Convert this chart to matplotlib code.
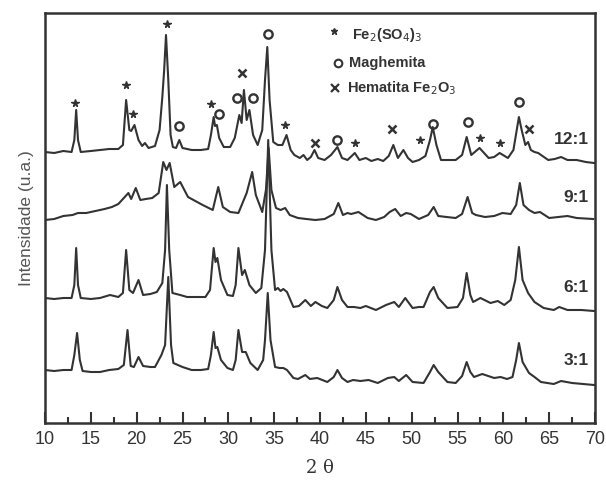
import numpy as np
import matplotlib
matplotlib.use('Agg')
import matplotlib.pyplot as plt

plt.rcParams['font.family'] = ['Liberation Sans', 'DejaVu Sans']

# 2theta / intensity (a.u.)
tt_12 = [10.0, 11.0, 12.0, 12.9, 13.2, 13.4, 13.6, 13.9, 15.0, 16.0, 17.0, 18.0, 18.5, 18.85, 19.2, 19.4,
         19.76, 20.2, 20.6, 20.9, 21.3, 22.0, 22.5, 22.8, 23.0, 23.2, 23.45, 23.7, 23.95, 24.3, 24.65, 25.0,
         26.0, 27.0, 27.8, 28.1, 28.4, 28.55, 28.75, 29.0, 29.5, 30.2, 30.7, 31.2, 31.45, 31.7, 32.0, 32.3,
         32.7, 33.2, 33.7, 34.0, 34.25, 34.5, 34.9, 35.4, 35.9, 36.35, 36.8, 37.2, 37.8, 38.2, 38.6, 39.0,
         39.4, 39.8, 40.5, 41.2, 41.9, 42.4, 43.0, 43.8, 44.3, 45.0, 45.6, 46.3, 46.9, 47.5, 48.0, 48.5,
         49.1, 49.6, 50.1, 50.8, 51.5, 52.0, 52.3, 52.7, 53.2, 54.0, 54.8, 55.5, 56.0, 56.5, 57.4, 58.4,
         59.0, 59.6, 60.5, 61.1, 61.5, 61.7, 62.0, 62.4, 62.7, 63.0, 63.4, 63.8, 64.9, 65.6, 66.3, 67.0,
         68.0, 69.0, 69.9]
int_12 = [271, 270, 272, 271, 283, 313, 283, 271, 272, 273, 274, 274, 278, 323, 293, 292,
          298, 283, 277, 280, 275, 277, 293, 326, 353, 388, 343, 288, 276, 275, 283, 275,
          273, 273, 274, 288, 306, 297, 298, 285, 276, 276, 285, 308, 300, 333, 303, 313,
          288, 278, 293, 343, 376, 323, 281, 278, 278, 288, 273, 268, 265, 268, 263, 266,
          273, 265, 263, 268, 276, 265, 263, 270, 263, 265, 262, 264, 262, 267, 278, 265,
          273, 265, 261, 263, 267, 283, 296, 278, 263, 263, 263, 268, 286, 268, 275, 265,
          266, 270, 265, 273, 295, 306, 293, 278, 281, 273, 271, 270, 263, 264, 266, 263,
          263, 261, 260]

tt_9 = [10.0, 11.0, 12.0, 13.0, 13.6, 14.5, 15.5, 16.5, 17.3, 18.0, 18.7, 19.1, 19.4, 19.9, 20.4, 21.0,
        21.7, 22.4, 22.9, 23.25, 23.6, 24.1, 24.75, 25.6, 26.4, 27.2, 28.3, 28.9, 29.4, 30.2, 31.1, 32.0,
        32.6, 33.0, 33.7, 34.1, 34.4, 34.7, 35.2, 35.7, 36.2, 36.7, 37.6, 38.5, 39.5, 40.5, 41.5, 42.0,
        42.5, 43.0, 43.4, 43.8, 44.2, 45.2, 46.1, 47.0, 47.6, 48.2, 48.8, 49.4, 49.9, 50.8, 51.8, 52.4,
        52.9, 53.8, 54.8, 55.5, 56.1, 56.6, 57.0, 58.0, 59.0, 59.9, 60.8, 61.4, 61.8, 62.2, 62.8, 63.4,
        64.0, 65.0, 66.0, 67.0, 68.0, 69.8]
int_9 = [203, 204, 207, 208, 210, 210, 212, 214, 216, 219, 226, 230, 224, 235, 223, 224,
         225, 230, 261, 253, 260, 236, 241, 226, 222, 218, 213, 236, 216, 211, 210, 230,
         251, 228, 211, 233, 275, 233, 215, 213, 215, 208, 205, 204, 203, 204, 209, 220,
         208, 210, 209, 210, 211, 205, 203, 206, 211, 214, 207, 210, 209, 204, 208, 216,
         207, 206, 205, 209, 226, 210, 208, 206, 207, 210, 209, 218, 240, 218, 213, 210,
         211, 205, 206, 207, 205, 204]

tt_6 = [10.0, 11.0, 12.0, 12.9, 13.2, 13.4, 13.6, 13.9, 15.0, 16.0, 17.1, 18.0, 18.5, 18.85, 19.2, 19.6,
        20.2, 20.7, 21.5, 22.2, 22.8, 23.1, 23.3, 23.55, 23.9, 24.75, 25.5, 26.5, 27.5, 28.0, 28.4, 28.6,
        28.8, 29.2, 29.9, 30.5, 30.8, 31.1, 31.5, 31.8, 32.3, 33.0, 33.6, 34.0, 34.35, 34.7, 35.1, 35.4,
        35.7, 36.0, 36.4, 37.1, 37.7, 38.4, 39.0, 39.5, 40.2, 40.8, 41.5, 41.9, 42.4, 43.0, 43.7, 44.4,
        45.0, 46.1, 47.2, 48.1, 48.6, 49.3, 50.1, 50.8, 51.3, 52.0, 52.4, 52.9, 53.9, 55.0, 55.6, 56.0,
        56.4, 56.7, 57.5, 58.6, 59.4, 60.1, 60.8, 61.3, 61.7, 62.1, 62.7, 63.4, 64.4, 65.5, 66.1, 67.0,
        68.5, 69.9]
int_6 = [125, 124, 125, 125, 138, 175, 138, 125, 124, 125, 128, 126, 130, 173, 133, 130,
         143, 128, 129, 131, 140, 173, 238, 173, 130, 128, 126, 126, 126, 133, 175, 161,
         165, 143, 128, 127, 138, 175, 148, 153, 138, 130, 135, 173, 283, 173, 133, 135,
         132, 134, 131, 116, 117, 123, 117, 121, 117, 115, 123, 136, 123, 116, 116, 115,
         117, 113, 118, 121, 116, 125, 115, 116, 116, 131, 136, 125, 115, 116, 125, 150,
         128, 121, 125, 120, 122, 118, 123, 143, 176, 143, 130, 121, 115, 113, 116, 113,
         113, 112]

tt_3 = [10.0, 11.0, 12.0, 12.9, 13.2, 13.5, 13.8, 14.1, 15.0, 16.0, 17.0, 18.0, 18.6, 19.0, 19.35, 19.7,
        20.2, 20.7, 21.5, 22.0, 22.7, 23.1, 23.45, 23.75, 24.0, 25.0, 26.0, 27.0, 27.8, 28.1, 28.4, 28.6,
        28.8, 29.2, 29.9, 30.5, 30.8, 31.1, 31.5, 31.9, 32.4, 33.2, 33.8, 34.0, 34.3, 34.6, 35.1, 35.6,
        36.0, 36.4, 37.1, 37.6, 38.4, 38.9, 39.7, 40.8, 41.5, 41.9, 42.4, 43.0, 43.6, 44.4, 45.3, 46.3,
        47.4, 48.1, 48.6, 49.4, 50.1, 51.3, 52.0, 52.4, 52.9, 53.9, 54.8, 55.5, 56.0, 56.4, 56.8, 57.7,
        59.0, 59.7, 60.4, 61.0, 61.4, 61.7, 62.1, 62.8, 63.4, 64.1, 65.5, 66.3, 67.5, 69.9]
int_3 = [53, 52, 53, 53, 68, 90, 63, 52, 51, 51, 53, 54, 58, 93, 57, 56,
         66, 57, 56, 56, 68, 78, 146, 78, 60, 56, 53, 53, 54, 68, 91, 75,
         76, 63, 55, 53, 63, 93, 71, 71, 60, 53, 63, 83, 130, 83, 56, 55,
         55, 53, 45, 44, 48, 44, 45, 41, 46, 53, 45, 41, 43, 42, 43, 40,
         45, 46, 42, 48, 41, 40, 51, 58, 51, 41, 40, 47, 61, 51, 46, 49,
         45, 46, 44, 46, 63, 80, 61, 50, 46, 41, 39, 42, 40, 38]

# phase markers above the 12:1 pattern
star_tt = [13.3, 18.85, 19.6, 23.3, 28.1, 36.2, 43.8, 50.9, 57.4, 59.6]
star_int = [320, 338, 309, 399, 319, 298, 280, 283, 285, 280]
circ_tt = [24.65, 29.0, 30.95, 32.65, 34.3, 41.9, 52.3, 56.1, 61.7]
circ_int = [297, 309, 325, 325, 389, 283, 299, 301, 321]
cross_tt = [31.5, 39.4, 47.9, 62.8]
cross_int = [350, 280, 294, 294]

samples = ['12:1', '9:1', '6:1', '3:1']
label_int = [276, 218, 128, 55]

ink = '#333333'

fig = plt.figure(figsize=(6.06, 4.80), dpi=100)
ax = fig.add_axes([45 / 606, 57 / 480, 550 / 606, 410 / 480])

for tt, inten in [(tt_12, int_12), (tt_9, int_9), (tt_6, int_6), (tt_3, int_3)]:
    ax.plot(tt, inten, color=ink, lw=1.5)

ax.plot(star_tt, star_int, ls='none', marker='*', ms=5.5, color=ink)
ax.plot(circ_tt, circ_int, ls='none', marker='o', ms=6, mfc='none', mec=ink, mew=1.7)
ax.plot(cross_tt, cross_int, ls='none', marker='x', ms=5.5, color=ink, mew=1.8)

for s, y in zip(samples, label_int):
    ax.text(69.3, y, s, ha='right', va='bottom', fontsize=12.5, fontweight='bold', color=ink)

# legend block
ax.plot([41.5], [392], marker='*', ms=5, color=ink, clip_on=False)
ax.text(43.5, 388, r'Fe$_2$(SO$_4$)$_3$', fontsize=10.5, fontweight='bold', color=ink, va='center')
ax.plot([42.0], [360], marker='o', ms=5.5, mfc='none', mec=ink, mew=1.5)
ax.text(43.2, 360, 'Maghemita', fontsize=10.5, fontweight='bold', color=ink, va='center')
ax.plot([41.6], [335], marker='x', ms=5.5, color=ink, mew=1.6)
ax.text(42.9, 335, r'Hematita Fe$_2$O$_3$', fontsize=10.5, fontweight='bold', color=ink, va='center')

ax.set_xlim(10, 70)
ax.set_ylim(0, 410)
ax.set_xticks(np.arange(10, 71, 5))
ax.set_xticks(np.arange(12.5, 70, 5), minor=True)
ax.set_yticks([])
ax.tick_params(axis='x', which='major', direction='in', length=8, width=1.5, labelsize=13,
               labelcolor=ink, color=ink, pad=6)
ax.tick_params(axis='x', which='minor', direction='in', length=4, width=1.5, color=ink)
for sp in ax.spines.values():
    sp.set_linewidth(1.8)
    sp.set_color(ink)

ax.set_xlabel('2 θ', fontsize=13, color=ink, family=['DejaVu Serif'], labelpad=8)
ax.set_ylabel('Intensidade (u.a.)', fontsize=12.5, color='#555555', labelpad=8)

fig.savefig('out.png', dpi=100)
